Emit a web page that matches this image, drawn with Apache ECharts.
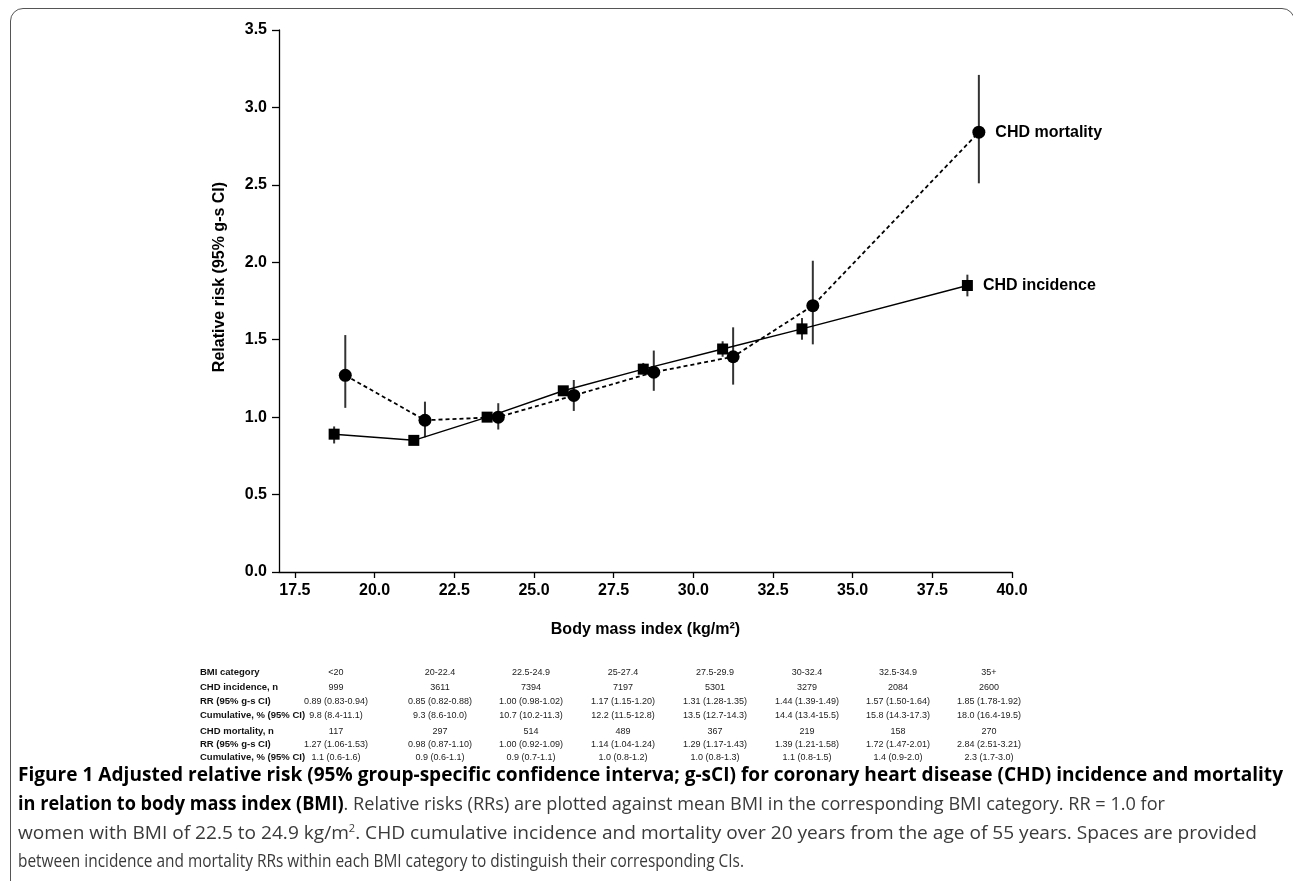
<!DOCTYPE html>
<html><head><meta charset="utf-8">
<script src="https://cdn.jsdelivr.net/npm/echarts@6/dist/echarts.min.js"></script>
<style>
html,body{margin:0;padding:0;background:#fff;}
#wrap{position:relative;width:1293px;height:881px;overflow:hidden;background:#fff;}
#chart{position:absolute;left:0;top:0;width:1293px;height:881px;}
#frame{position:absolute;left:10px;top:8px;width:1285px;height:1000px;border:1.5px solid #555;border-radius:13px;box-sizing:border-box;pointer-events:none;}
.tl{position:absolute;left:200px;font-family:"Liberation Sans",Arial,sans-serif;font-weight:bold;font-size:9.5px;color:#111;white-space:nowrap;line-height:12px;}
.tv{position:absolute;font-family:"Liberation Sans",Arial,sans-serif;font-size:9px;color:#222;white-space:nowrap;width:120px;text-align:center;line-height:12px;}
.cap{position:absolute;left:18px;font-family:"Open Sans",sans-serif;font-size:19px;line-height:29px;white-space:nowrap;transform-origin:0 50%;color:#3a3a3a;}
.cap b{color:#000;font-weight:bold;}
</style></head>
<body>
<div id="wrap">
  <div id="chart"></div>
  <div id="frame"></div>
  <div id="table"></div>
  <div id="caption">
    <div class="cap" id="c1" style="top:760px"><b>Figure 1 Adjusted relative risk (95% group-specific confidence interva; g-sCI) for coronary heart disease (CHD) incidence and mortality</b></div>
    <div class="cap" id="c2" style="top:789px"><b>in relation to body mass index (BMI)</b>. Relative risks (RRs) are plotted against mean BMI in the corresponding BMI category. RR = 1.0 for</div>
    <div class="cap" id="c3" style="top:818px">women with BMI of 22.5 to 24.9 kg/m<sup style="font-size:11px;line-height:0">2</sup>. CHD cumulative incidence and mortality over 20 years from the age of 55 years. Spaces are provided</div>
    <div class="cap" id="c4" style="top:846px">between incidence and mortality RRs within each BMI category to distinguish their corresponding CIs.</div>
  </div>
</div>
<script>
// ---- data ----
const bmiCats = ['<20','20-22.4','22.5-24.9','25-27.4','27.5-29.9','30-32.4','32.5-34.9','35+'];
const incBmi = [18.73,21.23,23.53,25.92,28.43,30.92,33.41,38.60];
const morBmi = [19.08,21.58,23.88,26.25,28.76,31.25,33.75,38.96];
const incN = [999,3611,7394,7197,5301,3279,2084,2600];
const incRR = [0.89,0.85,1.00,1.17,1.31,1.44,1.57,1.85];
const incLo = [0.83,0.82,0.98,1.15,1.28,1.39,1.50,1.78];
const incHi = [0.94,0.88,1.02,1.20,1.35,1.49,1.64,1.92];
const incCum = [9.8,9.3,10.7,12.2,13.5,14.4,15.8,18.0];
const incCumLo = [8.4,8.6,10.2,11.5,12.7,13.4,14.3,16.4];
const incCumHi = [11.1,10.0,11.3,12.8,14.3,15.5,17.3,19.5];
const morN = [117,297,514,489,367,219,158,270];
const morRR = [1.27,0.98,1.00,1.14,1.29,1.39,1.72,2.84];
const morLo = [1.06,0.87,0.92,1.04,1.17,1.21,1.47,2.51];
const morHi = [1.53,1.10,1.09,1.24,1.43,1.58,2.01,3.21];
const morCum = [1.1,0.9,0.9,1.0,1.0,1.1,1.4,2.3];
const morCumLo = [0.6,0.6,0.7,0.8,0.8,0.8,0.9,1.7];
const morCumHi = [1.6,1.1,1.1,1.2,1.3,1.5,2.0,3.0];
const xTicks = [17.5,20,22.5,25,27.5,30,32.5,35,37.5,40];
const rowLabels = ['BMI category','CHD incidence, n','RR (95% g-s CI)','Cumulative, % (95% CI)','CHD mortality, n','RR (95% g-s CI)','Cumulative, % (95% CI)'];

// ---- table ----
const colX = [336,440,531,623,715,807,898,989];
const rowY = [666,681,695,709,725,738,751];
const fmt2 = (v,l,h)=>v.toFixed(2)+' ('+l.toFixed(2)+'-'+h.toFixed(2)+')';
const fmt1 = (v,l,h)=>v.toFixed(1)+' ('+l.toFixed(1)+'-'+h.toFixed(1)+')';
const rows = [
  bmiCats,
  incN.map(String),
  incRR.map((v,i)=>fmt2(v,incLo[i],incHi[i])),
  incCum.map((v,i)=>fmt1(v,incCumLo[i],incCumHi[i])),
  morN.map(String),
  morRR.map((v,i)=>fmt2(v,morLo[i],morHi[i])),
  morCum.map((v,i)=>fmt1(v,morCumLo[i],morCumHi[i]))
];
const tbl = document.getElementById('table');
rows.forEach((r,ri)=>{
  const l = document.createElement('div');
  l.className='tl'; l.style.top=rowY[ri]+'px'; l.textContent=rowLabels[ri]; tbl.appendChild(l);
  r.forEach((t,ci)=>{
    const d=document.createElement('div');
    d.className='tv'; d.style.top=rowY[ri]+'px'; d.style.left=(colX[ci]-60)+'px'; d.textContent=t; tbl.appendChild(d);
  });
});

// ---- caption fitting (layout only) ----
function fitCaption(){
  const targets={c1:1265,c2:1147,c3:1239,c4:726};
  Object.keys(targets).forEach(id=>{
    const e=document.getElementById(id); e.style.transform='none';
    const w=e.getBoundingClientRect().width;
    e.style.transform='scaleX('+(targets[id]/w)+')';
  });
}
fitCaption();
if(document.fonts&&document.fonts.ready){document.fonts.ready.then(fitCaption);}

// ---- chart ----
const FONT='"Liberation Sans", Arial, sans-serif';
const chart = echarts.init(document.getElementById('chart'), null, {renderer:'canvas'});
function errBar(xs,lo,hi){
  return {
    type:'custom', z:1, silent:true,
    renderItem:(params,api)=>{
      const p1=api.coord([api.value(0),api.value(1)]);
      const p2=api.coord([api.value(0),api.value(2)]);
      return {type:'line', shape:{x1:p1[0],y1:p1[1],x2:p2[0],y2:p2[1]}, style:{stroke:'#333',lineWidth:2}};
    },
    encode:{x:0,y:[1,2]},
    data: xs.map((x,i)=>[x,lo[i],hi[i]])
  };
}
const lastI = incBmi.length-1;
chart.setOption({
  animation:false,
  backgroundColor:'transparent',
  grid:{left:279, right:281, top:30, bottom:309, containLabel:false},
  xAxis:{
    type:'value', min:17, max:40,
    axisLine:{show:true, onZero:false, lineStyle:{color:'#000', width:1.3}},
    axisTick:{show:true, length:6, customValues:xTicks, lineStyle:{color:'#000', width:1.3}},
    axisLabel:{customValues:xTicks, formatter:v=>Number(v).toFixed(1), fontSize:16, fontWeight:'bold', fontFamily:FONT, color:'#000', margin:11},
    splitLine:{show:false},
    name:'Body mass index (kg/m²)', nameLocation:'middle', nameGap:50,
    nameTextStyle:{fontSize:16, fontWeight:'bold', fontFamily:FONT, color:'#000'}
  },
  yAxis:{
    type:'value', min:0, max:3.5, interval:0.5,
    axisLine:{show:true, onZero:false, lineStyle:{color:'#000', width:1.3}},
    axisTick:{show:true, length:7, lineStyle:{color:'#000', width:1.3}},
    axisLabel:{formatter:v=>Number(v).toFixed(1), fontSize:16, fontWeight:'bold', fontFamily:FONT, color:'#000', margin:12},
    splitLine:{show:false}
  },
  graphic:[{
    type:'text', x:220, y:277, rotation:Math.PI/2,
    style:{text:'Relative risk (95% g-s CI)', fontSize:16, fontWeight:'bold', fontFamily:FONT, fill:'#000',
      align:'center', verticalAlign:'middle', textAlign:'center', textVerticalAlign:'middle'}
  }],
  series:[
    errBar(incBmi,incLo,incHi),
    errBar(morBmi,morLo,morHi),
    {
      type:'line', name:'CHD incidence', z:3,
      data: incBmi.map((x,i)=>[x,incRR[i]]),
      symbol:'rect', symbolSize:11, showAllSymbol:true,
      itemStyle:{color:'#000'}, lineStyle:{color:'#000', width:1.5, type:'solid'},
      label:{show:true, position:'right', distance:10, fontSize:16, fontWeight:'bold', fontFamily:FONT, color:'#000',
        formatter:p=>p.dataIndex===lastI?'CHD incidence':''}
    },
    {
      type:'line', name:'CHD mortality', z:4,
      data: morBmi.map((x,i)=>[x,morRR[i]]),
      symbol:'circle', symbolSize:13, showAllSymbol:true,
      itemStyle:{color:'#000'}, lineStyle:{color:'#000', width:1.8, type:[4,3]},
      label:{show:true, position:'right', distance:10, fontSize:16, fontWeight:'bold', fontFamily:FONT, color:'#000',
        formatter:p=>p.dataIndex===lastI?'CHD mortality':''}
    }
  ]
});
</script>
</body></html>
